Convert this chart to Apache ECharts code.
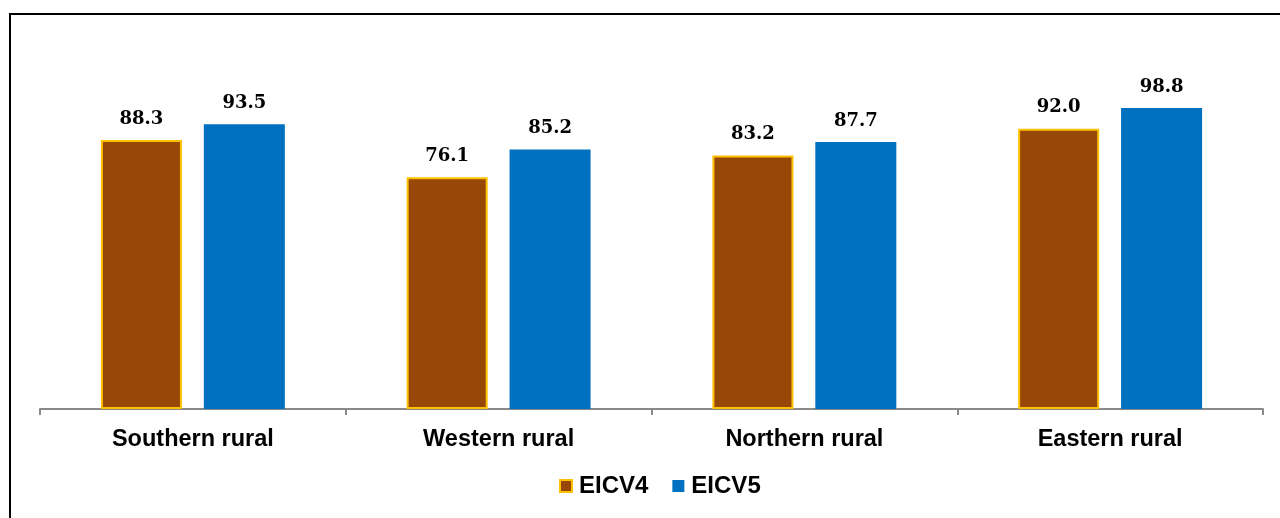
<!DOCTYPE html>
<html>
<head>
<meta charset="utf-8">
<script src="https://cdn.jsdelivr.net/npm/echarts@6/dist/echarts.min.js"></script>
<style>
html,body{margin:0;padding:0;background:#fff;}
#chart{width:1280px;height:518px;}
</style>
</head>
<body>
<div id="chart"></div>
<script>
var categories = ['Southern rural', 'Western rural', 'Northern rural', 'Eastern rural'];
var eicv4 = [88.3, 76.1, 83.2, 92.0];
var eicv5 = [93.5, 85.2, 87.7, 98.8];
var seriesNames = ['EICV4', 'EICV5'];

var chart = echarts.init(document.getElementById('chart'));
var labelStyle = {
  show: true,
  position: 'top',
  distance: 12,
  fontFamily: 'DejaVu Serif',
  fontWeight: 'bold',
  fontSize: 18,
  color: '#000',
  formatter: function (p) { return p.value.toFixed(1); }
};
chart.setOption({
  animation: false,
  backgroundColor: '#fff',
  graphic: [{
    type: 'rect',
    shape: { x: 10, y: 14, width: 1290, height: 530 },
    style: { fill: 'none', stroke: '#000', lineWidth: 2 },
    silent: true
  }],
  grid: { left: 40, right: 17, top: 74, bottom: 109 },
  legend: {
    bottom: 15,
    left: 554,
    icon: 'rect',
    itemWidth: 12,
    itemHeight: 12,
    itemGap: 24,
    textStyle: { fontFamily: 'Liberation Sans', fontWeight: 'bold', fontSize: 24, color: '#000', padding: [0, 0, 0, 2] },
    data: seriesNames
  },
  xAxis: {
    type: 'category',
    data: categories,
    axisLine: { lineStyle: { color: '#898989', width: 2 } },
    axisTick: { show: true, length: 6, lineStyle: { color: '#898989', width: 2 } },
    axisLabel: { margin: 19, fontFamily: 'Liberation Sans', fontWeight: 'bold', fontSize: 23.5, color: '#000' }
  },
  yAxis: {
    type: 'value',
    min: 0,
    max: 110,
    show: false,
    splitLine: { show: false }
  },
  series: [{
    name: seriesNames[0],
    type: 'bar',
    data: eicv4,
    barWidth: '26.5%',
    barGap: '27%',
    itemStyle: { color: '#974706', borderColor: '#FFC000', borderWidth: 2 },
    label: labelStyle
  }, {
    name: seriesNames[1],
    type: 'bar',
    data: eicv5,
    barWidth: '26.5%',
    itemStyle: { color: '#0070C0' },
    label: labelStyle
  }]
});
</script>
</body>
</html>
